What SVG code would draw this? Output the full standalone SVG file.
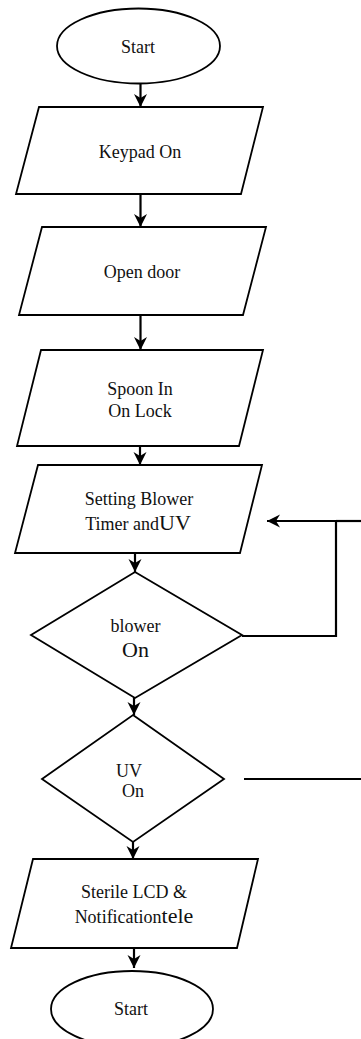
<svg xmlns="http://www.w3.org/2000/svg" width="361" height="1039" viewBox="0 0 361 1039">
<style>
.s{fill:#fff;stroke:#000;stroke-width:1.8}
.t{font-family:'Liberation Serif','Times New Roman','DejaVu Serif',serif;font-size:18px;fill:#111;text-anchor:middle}
.b{font-size:22px}
.c{fill:none;stroke:#000;stroke-width:2.2}
</style>
<defs>
<marker id="ah" markerUnits="userSpaceOnUse" markerWidth="14" markerHeight="14" refX="13" refY="7" orient="auto">
<path d="M0,0.5 L13,7 L0,13.5 L4,7 z" fill="#000"/>
</marker>
</defs>
<rect width="361" height="1039" fill="#fff"/>
<g id="connectors">
<path class="c" d="M140.5,83 V107" marker-end="url(#ah)"/>
<path class="c" d="M140.5,194 V227" marker-end="url(#ah)"/>
<path class="c" d="M140.5,315 V350" marker-end="url(#ah)"/>
<path class="c" d="M140,446 V465" marker-end="url(#ah)"/>
<path class="c" d="M135,553 V572" marker-end="url(#ah)"/>
<path class="c" d="M134,698 V715" marker-end="url(#ah)"/>
<path class="c" d="M133,842 V859" marker-end="url(#ah)"/>
<path class="c" d="M134,948 V968" marker-end="url(#ah)"/>
<path class="c" d="M242,636 H336 V521 H267" marker-end="url(#ah)"/>
<path class="c" d="M336,521 H361"/>
<path class="c" d="M244,779 H361"/>
</g>
<g id="start">
<ellipse class="s" cx="138.5" cy="46" rx="81.5" ry="37.5"/>
<text class="t" x="138" y="53">Start</text>
</g>
<g id="keypad">
<polygon class="s" points="39,107 263,107 241,194 16,194"/>
<text class="t" x="140" y="158">Keypad On</text>
</g>
<g id="door">
<polygon class="s" points="42,227 266,227 243,315 19,315"/>
<text class="t" x="142" y="278">Open door</text>
</g>
<g id="spoon">
<polygon class="s" points="41,350 263,350 239,446 17,446"/>
<text class="t" x="140" y="395">Spoon In</text>
<text class="t" x="140" y="417">On Lock</text>
</g>
<g id="setting">
<polygon class="s" points="38,465 262,465 240,553 15,553"/>
<text class="t" x="139" y="505">Setting Blower</text>
<text class="t" x="138" y="530">Timer and<tspan class="b">UV</tspan></text>
</g>
<g id="blower">
<polygon class="s" points="135,572 242,635 135,698 31,635"/>
<text class="t" x="135.5" y="632">blower</text>
<text class="t b" x="135.5" y="657">On</text>
</g>
<g id="uv">
<polygon class="s" points="133,715 224,779 133,842 42,779"/>
<text class="t" x="129" y="777">UV</text>
<text class="t" x="133" y="797">On</text>
</g>
<g id="sterile">
<polygon class="s" points="33,859 258,859 237,948 11,948"/>
<text class="t" x="134" y="898">Sterile LCD &amp;</text>
<text class="t" x="134" y="923">Notification<tspan class="b">tele</tspan></text>
</g>
<g id="end">
<ellipse class="s" cx="132" cy="1009" rx="81" ry="38"/>
<text class="t" x="131" y="1015">Start</text>
</g>
</svg>
